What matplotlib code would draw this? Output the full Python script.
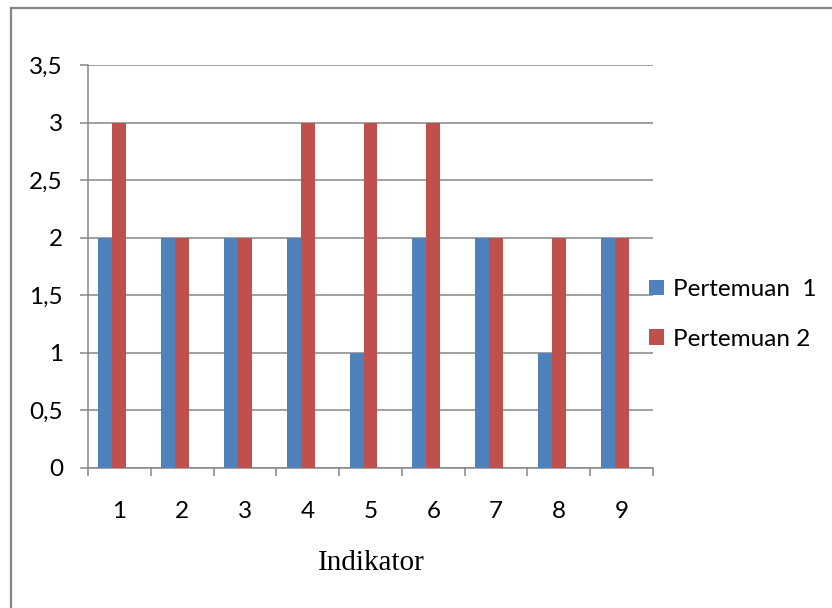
import matplotlib
matplotlib.use("Agg")
import matplotlib.pyplot as plt
import numpy as np
from matplotlib.patches import Patch
from matplotlib.lines import Line2D

categories = ["1", "2", "3", "4", "5", "6", "7", "8", "9"]
pertemuan_1 = [2, 2, 2, 2, 1, 2, 2, 1, 2]
pertemuan_2 = [3, 2, 2, 3, 3, 3, 2, 2, 2]
series_labels = ["Pertemuan  1", "Pertemuan 2"]
y_ticks = [0, 0.5, 1, 1.5, 2, 2.5, 3, 3.5]
y_tick_labels = ["0", "0,5", "1", "1,5", "2", "2,5", "3", "3,5"]
x_label = "Indikator"

BLUE = "#4F81BD"
RED = "#C0504D"
GRID = "#868686"
FS = 17.5

plt.rcParams["font.family"] = ["Lato", "DejaVu Sans"]

fig = plt.figure(figsize=(8.32, 6.08), dpi=100)
ax = fig.add_axes([88 / 832, 1 - 468 / 608, (653 - 88) / 832, (468 - 65) / 608])

x = np.arange(len(categories))
w = 1 / 4.5  # three slots per category with 150% gap
ax.bar(x - w, pertemuan_1, width=w, color=BLUE, label=series_labels[0], zorder=3)
ax.bar(x, pertemuan_2, width=w, color=RED, label=series_labels[1], zorder=3)

ax.set_xlim(-0.5, len(categories) - 0.5)
ax.set_ylim(0, 3.5)
ax.set_yticks(y_ticks)
ax.set_yticklabels(y_tick_labels)
ax.set_xticks(x)
ax.set_xticklabels(categories)
ax.set_xticks(np.arange(len(categories) + 1) - 0.5, minor=True)

ax.yaxis.grid(True, color=GRID, linewidth=1.1, zorder=0)
ax.set_axisbelow(True)
for s in ["top", "right"]:
    ax.spines[s].set_visible(False)
for s in ["left", "bottom"]:
    ax.spines[s].set_color(GRID)
    ax.spines[s].set_linewidth(1.1)

ax.tick_params(axis="y", length=6, width=1.1, color=GRID, pad=12,
               labelsize=FS, labelcolor="black")
ax.tick_params(axis="x", which="major", length=0, pad=24,
               labelsize=FS, labelcolor="black")
ax.tick_params(axis="x", which="minor", length=6, width=1.1, color=GRID)

fig.text(371 / 832, 1 - 563 / 608, x_label, ha="center", va="center",
         fontsize=21, family=["Liberation Serif", "DejaVu Serif"])

handles = [Patch(facecolor=BLUE, edgecolor="none"),
           Patch(facecolor=RED, edgecolor="none")]
fig.legend(handles, series_labels, loc="center left",
           bbox_to_anchor=(649 / 832, 1 - 314.5 / 608), frameon=False,
           fontsize=FS, handlelength=0.6, handleheight=0.6,
           handletextpad=0.37, labelspacing=1.17, borderpad=0,
           borderaxespad=0)

# outer chart border (left and top edges)
fig.add_artist(Line2D([10.5 / 832, 10.5 / 832], [0, 1 - 8 / 608],
                      transform=fig.transFigure, color=GRID, linewidth=1.6))
fig.add_artist(Line2D([10.5 / 832, 1], [1 - 8 / 608, 1 - 8 / 608],
                      transform=fig.transFigure, color=GRID, linewidth=1.6))

fig.savefig("out.png", dpi=100)
